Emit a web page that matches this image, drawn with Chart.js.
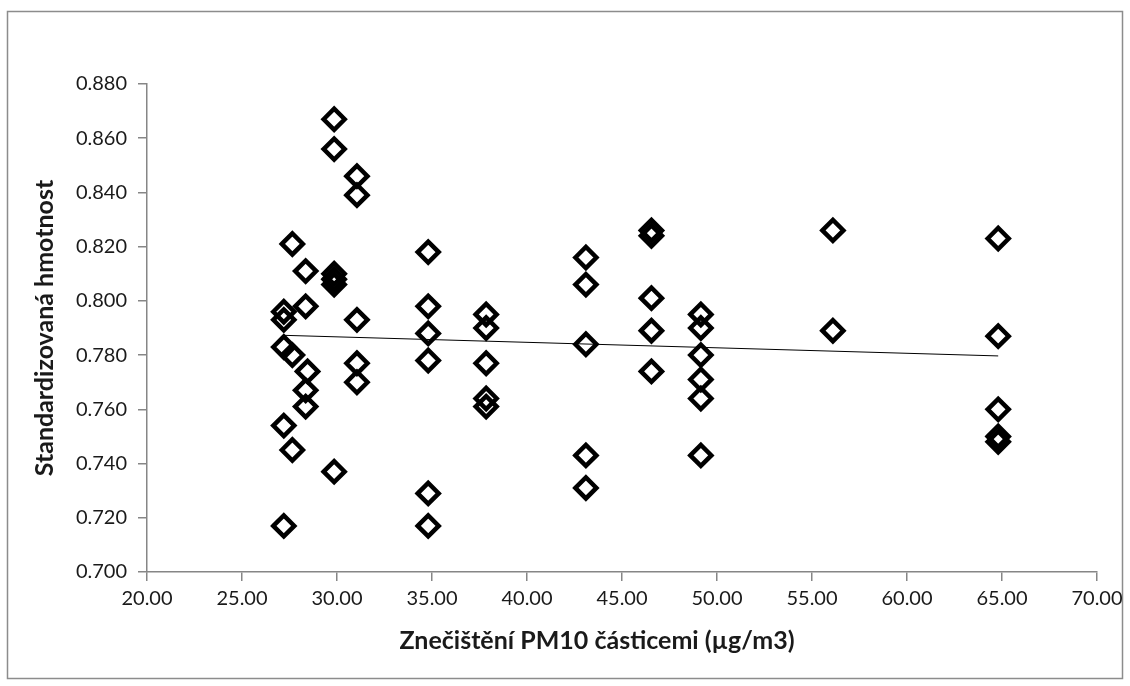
<!DOCTYPE html>
<html>
<head>
<meta charset="utf-8">
<script src="https://cdn.jsdelivr.net/npm/chart.js@4/dist/chart.umd.min.js"></script>
<style>
  html, body { margin: 0; padding: 0; background: #fff; }
  canvas { display: block; }
</style>
</head>
<body>
<canvas id="chart" width="1130" height="686"></canvas>
<script>
// PM10 concentration (x) and standardised mass (y)
const pm10 = [
  27.2, 27.2, 27.2, 27.2, 27.2,
  27.65, 27.65, 27.65,
  28.35, 28.35, 28.45, 28.35, 28.35,
  29.85, 29.85, 29.85, 29.85, 29.85, 29.85,
  31.05, 31.05, 31.05, 31.05, 31.05,
  34.8, 34.8, 34.8, 34.8, 34.8, 34.8,
  37.85, 37.85, 37.85, 37.85, 37.85,
  43.1, 43.1, 43.1, 43.1, 43.1,
  46.55, 46.55, 46.55, 46.55, 46.55,
  49.15, 49.15, 49.15, 49.15, 49.15, 49.15,
  56.1, 56.1,
  64.8, 64.8, 64.8, 64.8, 64.8
];
const mass = [
  0.796, 0.793, 0.783, 0.754, 0.717,
  0.821, 0.780, 0.745,
  0.811, 0.798, 0.774, 0.767, 0.761,
  0.867, 0.856, 0.810, 0.808, 0.806, 0.737,
  0.846, 0.839, 0.793, 0.777, 0.770,
  0.818, 0.798, 0.788, 0.778, 0.729, 0.717,
  0.795, 0.790, 0.777, 0.764, 0.761,
  0.816, 0.806, 0.784, 0.743, 0.731,
  0.826, 0.824, 0.801, 0.789, 0.774,
  0.795, 0.790, 0.780, 0.771, 0.764, 0.743,
  0.826, 0.789,
  0.823, 0.787, 0.760, 0.750, 0.748
];
// linear trend line end points
const trendX = [27.2, 64.8];
const trendY = [0.7873, 0.7797];

const xTitle = "Znečištění PM10 částicemi (µg/m3)";
const yTitle = "Standardizovaná hmotnost";

const AXIS = "#868686";
const TEXT = "#1a1a1a";
const FONT = "Lato";

const frame = {
  id: "frame",
  beforeDraw(chart) {
    const c = chart.ctx;
    c.save();
    c.fillStyle = "#fff";
    c.fillRect(0, 0, chart.width, chart.height);
    c.strokeStyle = "#8c8c8c";
    c.lineWidth = 1.5;
    c.strokeRect(7.5, 11.5, 1115, 667);
    c.restore();
  },
  // x axis title, Excel places it a little left of the plot centre
  afterDraw(chart) {
    const c = chart.ctx;
    c.save();
    c.fillStyle = TEXT;
    c.font = "bold 25px " + FONT;
    c.textAlign = "center";
    c.textBaseline = "middle";
    c.fillText(xTitle, 597, 641);
    c.restore();
  }
};

new Chart(document.getElementById("chart"), {
  type: "scatter",
  data: {
    datasets: [
      {
        data: pm10.map((x, i) => ({ x, y: mass[i] })),
        pointStyle: "rectRot",
        pointRadius: 10.5,
        pointBorderWidth: 4.5,
        pointBorderColor: "#000",
        pointBackgroundColor: "rgba(0,0,0,0)",
        order: 1
      },
      {
        type: "line",
        data: trendX.map((x, i) => ({ x, y: trendY[i] })),
        borderColor: "#000",
        borderWidth: 1,
        pointRadius: 0,
        order: 2
      }
    ]
  },
  options: {
    responsive: false,
    animation: false,
    devicePixelRatio: 1,
    layout: { padding: { left: 0, top: 84, right: 33, bottom: 0 } },
    plugins: { legend: { display: false }, tooltip: { enabled: false } },
    scales: {
      x: {
        type: "linear",
        min: 20,
        max: 70,
        afterFit: s => { s.height = 114; },
        ticks: {
          stepSize: 5,
          padding: 6,
          color: TEXT,
          font: { family: FONT, size: 20 },
          callback: v => v.toFixed(2)
        },
        grid: { drawOnChartArea: false, tickLength: 9, color: AXIS, lineWidth: 1.5 },
        border: { color: AXIS, width: 1.5 }
      },
      y: {
        min: 0.7,
        max: 0.88,
        afterFit: s => { s.width = 147; },
        ticks: {
          stepSize: 0.02,
          padding: 11,
          color: TEXT,
          font: { family: FONT, size: 20 },
          callback: v => v.toFixed(3)
        },
        grid: { drawOnChartArea: false, tickLength: 9, color: AXIS, lineWidth: 1.5 },
        border: { color: AXIS, width: 1.5 },
        title: {
          display: true,
          text: yTitle,
          color: TEXT,
          font: { family: FONT, size: 25, weight: "bold" },
          padding: { top: 30, bottom: 30 }
        }
      }
    }
  },
  plugins: [frame]
});
</script>
</body>
</html>
